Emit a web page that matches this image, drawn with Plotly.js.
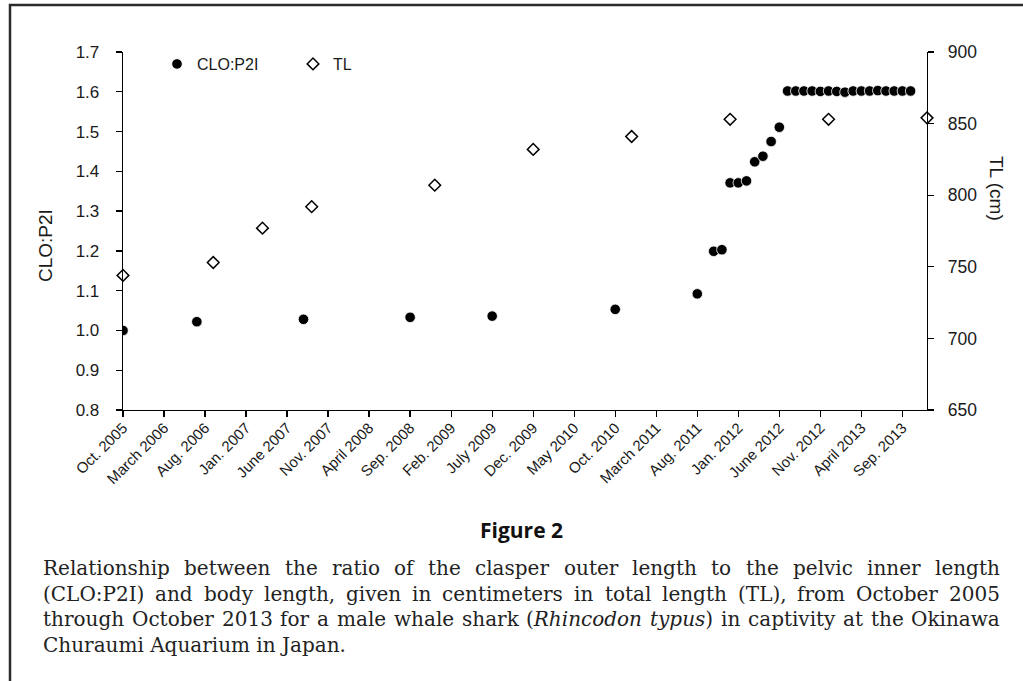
<!DOCTYPE html>
<html>
<head>
<meta charset="utf-8">
<script src="https://cdn.plot.ly/plotly-3.0.1.min.js"></script>
<style>
  html, body { margin: 0; padding: 0; background: #ffffff; }
  #chart { width: 1023px; height: 681px; }
</style>
</head>
<body>
<div id="chart"></div>
<script>
// ---------- data ----------
const cloDates = ['2005-10','2006-07','2007-08','2008-09','2009-07','2010-10','2011-08',
  '2011-10','2011-11','2011-12','2012-01','2012-02','2012-03','2012-04','2012-05','2012-06',
  '2012-07','2012-08','2012-09','2012-10','2012-11','2012-12','2013-01','2013-02',
  '2013-03','2013-04','2013-05','2013-06','2013-07','2013-08','2013-09','2013-10'];
const cloValues = [1.000, 1.022, 1.028, 1.033, 1.036, 1.053, 1.092,
  1.199, 1.203, 1.371, 1.371, 1.376, 1.424, 1.438, 1.475, 1.511,
  1.602, 1.602, 1.602, 1.602, 1.601, 1.602, 1.601, 1.599,
  1.602, 1.602, 1.602, 1.603, 1.602, 1.602, 1.602, 1.602];

const tlDates = ['2005-10','2006-09','2007-03','2007-09','2008-12','2009-12','2010-12','2011-12','2012-12','2013-12'];
const tlValues = [744, 753, 777, 792, 807, 832, 841, 853, 853, 854];

const tickDates = ['2005-10','2006-03','2006-08','2007-01','2007-06','2007-11','2008-04','2008-09',
  '2009-02','2009-07','2009-12','2010-05','2010-10','2011-03','2011-08','2012-01','2012-06',
  '2012-11','2013-04','2013-09'];
const tickLabels = ['Oct. 2005','March 2006','Aug. 2006','Jan. 2007','June 2007','Nov. 2007',
  'April 2008','Sep. 2008','Feb. 2009','July 2009','Dec. 2009','May 2010','Oct. 2010',
  'March 2011','Aug. 2011','Jan. 2012','June 2012','Nov. 2012','April 2013','Sep. 2013'];
const axisStart = '2005-10';
const axisEnd = '2013-12';

const seriesNames = ['CLO:P2I', 'TL'];
const yTitle = 'CLO:P2I';
const y2Title = 'TL (cm)';
const figureTitle = 'Figure 2';
const captionLines = [
  'Relationship between the ratio of the clasper outer length to the pelvic inner length',
  '(CLO:P2I) and body length, given in centimeters in total length (TL), from October 2005',
  'through October 2013 for a male whale shark (<i>Rhincodon typus</i>) in captivity at the Okinawa',
  'Churaumi Aquarium in Japan.'
];

// ---------- helpers ----------
function monthIndex(s) {
  const [y, m] = s.split('-').map(Number);
  const [y0, m0] = axisStart.split('-').map(Number);
  return (y - y0) * 12 + (m - m0);
}

const W = 1023, H = 681;
const M = { l: 123, r: 96, t: 52, b: 271 };
const PW = W - M.l - M.r, PH = H - M.t - M.b;
const px = x => (x - M.l) / PW;
const py = y => 1 - (y - M.t) / PH;

const AXIS_FONT = 'Liberation Sans, Arial, Helvetica, sans-serif';
const SERIF = 'DejaVu Serif';

// ---------- traces ----------
const traces = [
  {
    type: 'scatter', mode: 'markers', name: seriesNames[0],
    x: cloDates.map(monthIndex), y: cloValues, yaxis: 'y',
    marker: { symbol: 'circle', size: 10.5, color: '#000000', line: { color: '#ffffff', width: 0.8 } },
    hoverinfo: 'x+y'
  },
  {
    type: 'scatter', mode: 'markers', name: seriesNames[1],
    x: tlDates.map(monthIndex), y: tlValues, yaxis: 'y2',
    marker: { symbol: 'diamond', size: 9, color: '#ffffff', line: { color: '#000000', width: 1.5 } },
    cliponaxis: false,
    hoverinfo: 'x+y'
  }
];

// ---------- caption justification ----------
const canvas = document.createElement('canvas');
const ctx = canvas.getContext('2d');
function tokenize(line) {
  const words = line.split(' ');
  let italic = false;
  return words.map(w => {
    const startItalic = italic;
    const segs = [];
    let rest = w;
    while (rest.length) {
      const mOpen = rest.indexOf('<i>');
      const mClose = rest.indexOf('</i>');
      let next = -1, tag = null;
      if (mOpen >= 0 && (mClose < 0 || mOpen < mClose)) { next = mOpen; tag = '<i>'; }
      else if (mClose >= 0) { next = mClose; tag = '</i>'; }
      if (next < 0) { segs.push({ t: rest, it: italic }); rest = ''; }
      else {
        if (next > 0) segs.push({ t: rest.slice(0, next), it: italic });
        italic = tag === '<i>';
        rest = rest.slice(next + tag.length);
      }
    }
    let txt = w;
    if (startItalic) txt = '<i>' + txt;
    if (italic) txt = txt + '</i>';
    return { segs, txt };
  });
}
function measure(segs, size) {
  let w = 0;
  segs.forEach(s => {
    ctx.font = (s.it ? 'italic ' : '') + size + 'px "' + SERIF + '"';
    w += ctx.measureText(s.t).width;
  });
  return w;
}
const capLeft = 43, capWidth = 957;
const capCenters = [568, 593.5, 619, 644.5];
const refSize = 18;
const l3 = tokenize(captionLines[2]);
ctx.font = refSize + 'px "' + SERIF + '"';
const spaceW = ctx.measureText(' ').width;
const l3w = l3.reduce((a, w) => a + measure(w.segs, refSize), 0) + spaceW * (l3.length - 1);
let capSize = refSize * (capWidth - 6) / l3w;
capSize = Math.max(15, Math.min(20, capSize));

const annotations = [];
captionLines.forEach((line, i) => {
  const yy = py(capCenters[i]);
  const font = { family: SERIF, size: capSize, color: '#222222' };
  if (i === captionLines.length - 1) {
    annotations.push({ xref: 'paper', yref: 'paper', x: px(capLeft - 2), y: yy, xanchor: 'left', yanchor: 'middle',
      text: line, showarrow: false, font });
    return;
  }
  const toks = tokenize(line);
  const widths = toks.map(t => measure(t.segs, capSize));
  const total = widths.reduce((a, b) => a + b, 0);
  const gap = (capWidth - total) / (toks.length - 1);
  let x = capLeft;
  toks.forEach((t, k) => {
    annotations.push({ xref: 'paper', yref: 'paper', x: px(x - 2), y: yy, xanchor: 'left', yanchor: 'middle',
      text: t.txt, showarrow: false, font });
    x += widths[k] + gap;
  });
});

// figure title
annotations.push({ xref: 'paper', yref: 'paper', x: px(521), y: py(530), xanchor: 'center', yanchor: 'middle',
  text: '<b>' + figureTitle + '</b>', showarrow: false,
  font: { family: 'Open Sans, DejaVu Sans, sans-serif', size: 21, color: '#111111' } });
// axis titles
annotations.push({ xref: 'paper', yref: 'paper', x: px(45), y: py(246), xanchor: 'center', yanchor: 'middle',
  text: yTitle, textangle: -90, showarrow: false, font: { family: AXIS_FONT, size: 19, color: '#1a1a1a' } });
annotations.push({ xref: 'paper', yref: 'paper', x: px(997), y: py(188), xanchor: 'center', yanchor: 'middle',
  text: y2Title, textangle: 90, showarrow: false, font: { family: AXIS_FONT, size: 19, color: '#1a1a1a' } });

const tickFont = { family: AXIS_FONT, size: 17, color: '#1a1a1a' };

const layout = {
  width: W, height: H, autosize: false,
  margin: M,
  paper_bgcolor: '#ffffff', plot_bgcolor: '#ffffff',
  showlegend: true,
  legend: {
    orientation: 'h', x: px(157), xanchor: 'left', y: py(64), yanchor: 'middle',
    bgcolor: 'rgba(0,0,0,0)', font: { family: AXIS_FONT, size: 16, color: '#1a1a1a' },
    entrywidth: 91, entrywidthmode: 'pixels', itemclick: false
  },
  xaxis: {
    range: [monthIndex(axisStart), monthIndex(axisEnd)],
    tickmode: 'array', tickvals: tickDates.map(monthIndex), ticktext: tickLabels,
    tickangle: -45, tickfont: { family: AXIS_FONT, size: 15, color: '#1a1a1a' },
    ticklabelstandoff: -4,
    showline: true, linecolor: '#000000', linewidth: 1.3,
    ticks: 'outside', ticklen: 6, tickwidth: 1.3, tickcolor: '#000000',
    showgrid: false, zeroline: false, fixedrange: true
  },
  yaxis: {
    range: [0.8, 1.7], dtick: 0.1, tick0: 0.8, tickformat: '.1f',
    tickfont: tickFont, ticklabelstandoff: 13,
    showline: true, linecolor: '#000000', linewidth: 1.3,
    ticks: 'outside', ticklen: 6, tickwidth: 1.3, tickcolor: '#000000',
    showgrid: false, zeroline: false, fixedrange: true
  },
  yaxis2: {
    range: [650, 900], dtick: 50, tick0: 650, overlaying: 'y', side: 'right',
    tickfont: { family: AXIS_FONT, size: 17.5, color: '#1a1a1a' }, ticklabelstandoff: 10,
    showline: true, linecolor: '#000000', linewidth: 1.3,
    ticks: 'outside', ticklen: 6, tickwidth: 1.3, tickcolor: '#000000',
    showgrid: false, zeroline: false, fixedrange: true
  },
  shapes: [{
    type: 'rect', xref: 'paper', yref: 'paper', layer: 'below',
    x0: px(10), y0: py(5), x1: px(1060), y1: py(720),
    line: { color: '#2b2b2b', width: 2.5 }, fillcolor: 'rgba(0,0,0,0)'
  }],
  annotations
};

Plotly.newPlot('chart', traces, layout, { displayModeBar: false, staticPlot: true });
</script>
</body>
</html>
